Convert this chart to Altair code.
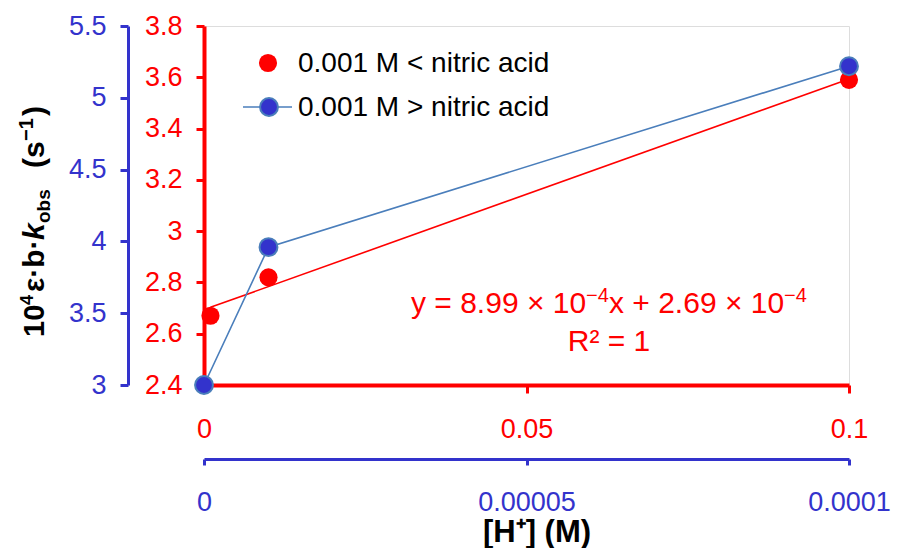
import altair as alt
import pandas as pd

# ---- data ----
red_x = [0.001, 0.01, 0.1]
red_y = [2.67, 2.82, 3.59]
blue_x = [0.0, 0.00001, 0.0001]
blue_y = [3.00, 3.96, 5.22]

red_x_ticks = [0, 0.05, 0.1]
blue_x_ticks = [0, 0.00005, 0.0001]
red_y_ticks = [2.4, 2.6, 2.8, 3.0, 3.2, 3.4, 3.6, 3.8]
blue_y_ticks = [3.0, 3.5, 4.0, 4.5, 5.0, 5.5]

series_names = ["0.001 M < nitric acid", "0.001 M > nitric acid"]
eq_parts = ["y = 8.99 × 10", "−4", "x + 2.69 × 10", "−4"]
r2_text = "R² = 1"
x_title = "[H⁺] (M)"
y_title_parts = ["10", "4", "ε·b·", "k", "obs", "(s", "−1", ")"]

RED = "#FF0000"
BLUE = "#3333CC"
LINE_BLUE = "#4A7EBB"
FONT = "Liberation Sans"

W, H = 645, 359

red_df = pd.DataFrame({"x": red_x, "y": red_y})
blue_df = pd.DataFrame({"x": blue_x, "y": blue_y})


def axis_style(color, **kw):
    base = dict(
        title=None, grid=False, domainColor=color, tickColor=color,
        labelColor=color, labelFont=FONT, labelFontSize=27,
        labelFlush=False, labelOverlap=False,
    )
    base.update(kw)
    return alt.Axis(**base)


red_xenc = alt.X(
    "x:Q",
    scale=alt.Scale(domain=[0, 0.1], nice=False, zero=False),
    axis=axis_style(RED, orient="bottom", values=red_x_ticks, format=".2~f",
                    domainWidth=4, tickWidth=3, tickSize=8, labelPadding=23),
)
red_yenc = alt.Y(
    "y:Q",
    scale=alt.Scale(domain=[2.4, 3.8], nice=False, zero=False),
    axis=axis_style(RED, orient="left", values=red_y_ticks, format=".1~f",
                    domainWidth=4, tickWidth=3, tickSize=8, labelPadding=14),
)
blue_xenc = alt.X(
    "x:Q",
    scale=alt.Scale(domain=[0, 0.0001], nice=False, zero=False),
    axis=axis_style(BLUE, orient="bottom", offset=74, values=blue_x_ticks,
                    format=".5~f", domainWidth=3, tickWidth=3, tickSize=6,
                    labelPadding=24),
)
blue_yenc = alt.Y(
    "y:Q",
    scale=alt.Scale(domain=[3.0, 5.5], nice=False, zero=False),
    axis=axis_style(BLUE, orient="left", offset=76, values=blue_y_ticks,
                    format=".1~f", domainWidth=3, tickWidth=3, tickSize=8,
                    labelPadding=14),
)

red_points = alt.Chart(red_df).mark_circle(size=330, color=RED, opacity=1).encode(
    x=red_xenc, y=red_yenc)
red_trend = alt.Chart(red_df).transform_regression(
    "x", "y", extent=[0.001, 0.1]
).mark_line(color=RED, strokeWidth=1.6).encode(x=red_xenc, y=red_yenc)
red_layer = alt.layer(red_trend, red_points)

blue_line = alt.Chart(blue_df).mark_line(color=LINE_BLUE, strokeWidth=1.6).encode(
    x=blue_xenc, y=blue_yenc)
blue_points = alt.Chart(blue_df).mark_point(
    shape="circle", size=320, filled=True, fill=BLUE, stroke=LINE_BLUE,
    strokeWidth=2, opacity=1).encode(x=blue_xenc, y=blue_yenc)
blue_layer = alt.layer(blue_line, blue_points)

one = pd.DataFrame({"a": [0]})


def label(text, x, y, size, color="black", align="left", baseline="middle",
          weight="normal", style="normal", angle=0):
    return alt.Chart(one).mark_text(
        text=text, font=FONT, fontSize=size, align=align, baseline=baseline,
        color=color, fontWeight=weight, fontStyle=style, angle=angle,
    ).encode(x=alt.value(x), y=alt.value(y))


# ---- legend (manual, inside plot) ----
leg = [
    alt.Chart(one).mark_circle(size=330, color=RED, opacity=1).encode(
        x=alt.value(64), y=alt.value(37)),
    alt.Chart(one).mark_rule(color=LINE_BLUE, strokeWidth=1.6).encode(
        x=alt.value(39), x2=alt.value(88), y=alt.value(81)),
    alt.Chart(one).mark_point(
        shape="circle", size=320, filled=True, fill=BLUE, stroke=LINE_BLUE,
        strokeWidth=2, opacity=1).encode(x=alt.value(65), y=alt.value(81)),
    label(series_names[0], 94, 38, 28),
    label(series_names[1], 94, 82, 28),
]

# ---- trendline equation ----
EQ_X, EQ_Y = 207, 287
eq = [
    label(eq_parts[0], EQ_X, EQ_Y, 30, RED, baseline="alphabetic"),
    label(eq_parts[1], EQ_X + 175, EQ_Y - 11, 20, RED, baseline="alphabetic"),
    label(eq_parts[2], EQ_X + 198, EQ_Y, 30, RED, baseline="alphabetic"),
    label(eq_parts[3], EQ_X + 373, EQ_Y - 11, 20, RED, baseline="alphabetic"),
    label(r2_text, 405, 325, 30, RED, align="center", baseline="alphabetic"),
]

# ---- axis titles ----
xt = label(x_title, 333, 516, 31, align="center", baseline="alphabetic",
           weight="bold")

BX = -160  # baseline x of rotated y title (plot coords)
y_pos = [311, 279, 266, 214, 197, 142, 115, 90]
y_size = [29, 18, 30, 30, 19, 30, 20, 30]
y_shift = [0, -11, 0, 0, 6, 0, -11, 0]
y_ital = [False, False, False, True, False, False, False, False]
yt = [
    label(t, BX + s, p, fs, baseline="alphabetic", weight="bold",
          style="italic" if it else "normal", angle=270)
    for t, p, fs, s, it in zip(y_title_parts, y_pos, y_size, y_shift, y_ital)
]

chart = alt.layer(
    red_layer, blue_layer, *leg, *eq, xt, *yt,
).resolve_scale(x="independent", y="independent").properties(
    width=W, height=H,
    autosize=alt.AutoSizeParams(type="none"),
    padding={"left": 196, "top": 18, "right": 42, "bottom": 163},
).configure_view(stroke="black", strokeWidth=1.2).configure(background="white")

chart.save("out.html", embed_options={"renderer": "svg", "actions": False})
